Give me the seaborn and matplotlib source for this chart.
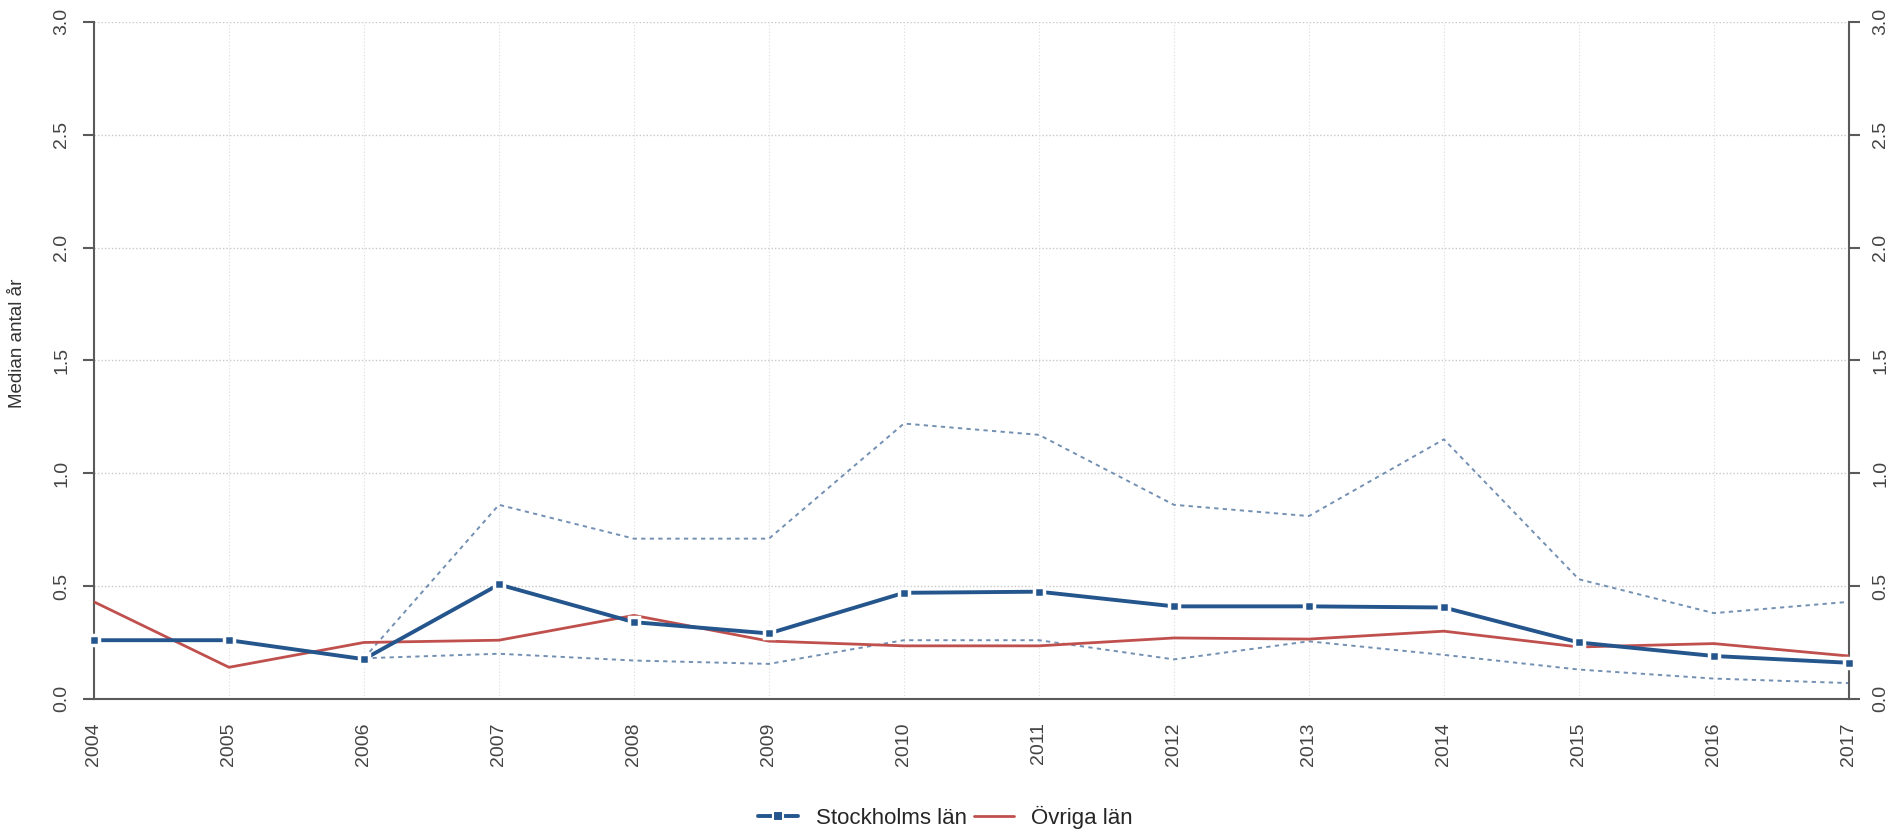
import matplotlib
matplotlib.use("Agg")
import matplotlib.pyplot as plt
import seaborn as sns
import pandas as pd
from matplotlib.lines import Line2D
from matplotlib import font_manager

years = list(range(2004, 2018))
stockholm = [0.26, 0.26, 0.176, 0.507, 0.34, 0.29, 0.47, 0.475, 0.41, 0.41, 0.405, 0.25, 0.19, 0.16]
ovriga = [0.43, 0.14, 0.25, 0.26, 0.37, 0.256, 0.235, 0.235, 0.27, 0.265, 0.30, 0.23, 0.245, 0.19]
ci_years = list(range(2006, 2018))
sthlm_upper = [0.18, 0.86, 0.71, 0.71, 1.22, 1.17, 0.86, 0.81, 1.15, 0.53, 0.38, 0.43]
sthlm_lower = [0.18, 0.20, 0.17, 0.155, 0.26, 0.26, 0.175, 0.255, 0.195, 0.13, 0.09, 0.07]
yticks = [0.0, 0.5, 1.0, 1.5, 2.0, 2.5, 3.0]
ylabel = "Median antal år"
labels = ["Stockholms län", "Övriga län"]

sns.set_style("white")
plt.rcParams['font.family'] = ['Liberation Sans', 'DejaVu Sans']

narrow = "Liberation Sans"
try:
    p = font_manager.findfont(font_manager.FontProperties(family="Liberation Sans Narrow"),
                              fallback_to_default=False)
    if "Narrow" in p:
        narrow = "Liberation Sans Narrow"
except Exception:
    pass

BLUE = "#24558c"
RED = "#c0504d"
CI = "#7390b3"
AX = "#5a5a5a"

fig = plt.figure(figsize=(18.91, 8.39), dpi=100)
ax = fig.add_axes([0.0497, 0.167, 0.928, 0.807])

df_main = pd.DataFrame({"year": years, "sthlm": stockholm, "ovr": ovriga})
df_ci = pd.DataFrame({"year": ci_years, "up": sthlm_upper, "lo": sthlm_lower})

for yv in yticks[1:]:
    ax.axhline(yv, color="#c8c8c8", lw=1.0, ls=(0, (1, 1.5)), zorder=0)
for xv in years:
    ax.axvline(xv, color="#dcdcdc", lw=0.8, ls=(0, (1, 2)), zorder=0)

sns.lineplot(data=df_ci, x="year", y="up", ax=ax, color=CI, lw=1.4,
             linestyle=(0, (2.2, 2.2)), zorder=2)
sns.lineplot(data=df_ci, x="year", y="lo", ax=ax, color=CI, lw=1.4,
             linestyle=(0, (2.2, 2.2)), zorder=2)
sns.lineplot(data=df_main, x="year", y="ovr", ax=ax, color=RED, lw=2.0, zorder=3)
sns.lineplot(data=df_main, x="year", y="sthlm", ax=ax, color=BLUE, lw=2.8,
             marker="s", markersize=7, markerfacecolor=BLUE,
             markeredgecolor="white", markeredgewidth=2.5, zorder=4, clip_on=False)

ax.set_xlim(2004, 2017)
ax.set_ylim(0, 3)
ax.set_xticks(years)
ax.set_xticklabels([str(y) for y in years], rotation=90)
ax.set_yticks(yticks)
ax.set_yticklabels([f"{v:.1f}" for v in yticks], rotation=90, va="center")
ax.set_xlabel("")
ax.set_ylabel(ylabel, fontsize=13.5, color="#333333")
ax.yaxis.set_label_coords(-0.039, 0.525)

ax.spines["top"].set_visible(False)
for s in ["left", "right", "bottom"]:
    ax.spines[s].set_color(AX)
    ax.spines[s].set_linewidth(1.5)

ax.tick_params(axis="both", direction="out", length=8, width=1.5, color=AX,
               labelcolor="#444444", labelsize=14, pad=9)
ax.tick_params(axis="y", right=True, labelright=True, left=True)
for lab in ax.get_yticklabels(which="both"):
    lab.set_rotation(90)

handles = [Line2D([], [], color=BLUE, lw=2.8, marker="s", markersize=7,
                  markeredgecolor="white", markeredgewidth=1.5),
           Line2D([], [], color=RED, lw=2.0)]
leg = fig.legend(handles, labels, loc="lower center", bbox_to_anchor=(0.5, -0.012),
                 ncol=2, frameon=False, handlelength=1.8,
                 columnspacing=0.3, handletextpad=0.8,
                 prop={"family": [narrow, "DejaVu Sans"], "size": 16})

fig.savefig("out.png", dpi=100)
